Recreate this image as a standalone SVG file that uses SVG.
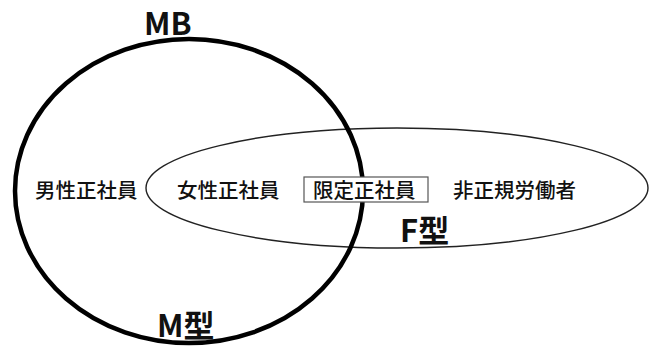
<svg xmlns="http://www.w3.org/2000/svg" width="649" height="352" viewBox="0 0 649 352">
<style>
.lbl{font-family:"Noto Sans CJK JP","Noto Sans",sans-serif;font-size:20.5px;fill:#111;font-weight:500}
.big{font-family:"Noto Sans CJK JP","Noto Sans",sans-serif;font-size:31px;fill:#111;font-weight:700}
</style>
<rect width="649" height="352" fill="#fff"/>
<g id="F-set">
<ellipse cx="397" cy="188" rx="251" ry="60" fill="none" stroke="#222" stroke-width="1.4"/>
<text class="big" x="400" y="242">F型</text>
</g>
<g id="M-set">
<ellipse cx="189" cy="191" rx="174" ry="152" fill="none" stroke="#000" stroke-width="4.5"/>
<text class="big" x="144" y="35">MB</text>
<text class="big" x="157" y="337">M型</text>
</g>
<g id="male"><text class="lbl" x="35" y="198">男性正社員</text></g>
<g id="female"><text class="lbl" x="177" y="198">女性正社員</text></g>
<g id="limited">
<rect x="304" y="177" width="124" height="25" fill="#fff" stroke="#555" stroke-width="1.2"/>
<text class="lbl" x="313" y="198">限定正社員</text>
</g>
<g id="nonregular"><text class="lbl" x="453" y="198">非正規労働者</text></g>
<g id="connectors"/>
</svg>
